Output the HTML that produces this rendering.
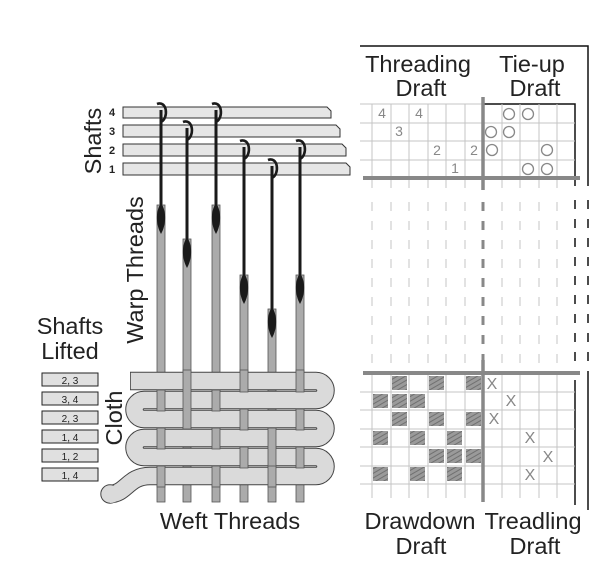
<!DOCTYPE html>
<html><head><meta charset="utf-8"><style>
html,body{margin:0;padding:0;background:#fff;}
svg{display:block;}
text{font-family:"Liberation Sans",sans-serif;}
</style></head><body>
<svg width="607" height="577" viewBox="0 0 607 577" xmlns="http://www.w3.org/2000/svg">
<defs>
<pattern id="hatch" width="4" height="4" patternUnits="userSpaceOnUse" patternTransform="rotate(-30)">
<rect width="4" height="4" fill="#9a9a9a"/><line x1="0" y1="0" x2="4" y2="0" stroke="#707070" stroke-width="2"/>
</pattern>
</defs>

<!-- Frame -->
<path d="M360 46 H588 V186" fill="none" stroke="#111" stroke-width="1.5"/>
<path d="M588 200 V372" stroke="#111" stroke-width="1.5" stroke-dasharray="9 10"/>
<path d="M588 372 V510" stroke="#111" stroke-width="1.5"/>
<path d="M483 104 H575 V186" fill="none" stroke="#111" stroke-width="1.5"/>
<path d="M575 200 V372" stroke="#111" stroke-width="1.5" stroke-dasharray="9 10"/>
<path d="M575 380 V505" stroke="#111" stroke-width="1.5"/>

<!-- Titles -->
<g font-size="23.5" text-anchor="middle" fill="#222">
<text x="418" y="72">Threading</text><text x="421" y="96">Draft</text>
<text x="532" y="72">Tie-up</text><text x="535" y="96">Draft</text>
<text x="420" y="529">Drawdown</text><text x="421" y="554">Draft</text>
<text x="533" y="529">Treadling</text><text x="535" y="554">Draft</text>
<text x="230" y="529">Weft Threads</text>
<text x="70" y="334">Shafts</text><text x="70" y="359">Lifted</text>
<text transform="translate(101,141) rotate(-90)">Shafts</text>
<text transform="translate(143,270) rotate(-90)">Warp Threads</text>
<text transform="translate(122,418) rotate(-90)">Cloth</text>
</g>

<!-- Top grid -->
<g stroke="#c4c4c4" stroke-width="1">
<path d="M360 104 H483 M360 123 H575 M360 141 H575 M360 160 H575"/>
<path d="M372 104 V188 M391 104 V188 M409 104 V188 M428 104 V188 M446 104 V188 M465 104 V188 M502 104 V188 M520 104 V188 M539 104 V188 M557 104 V188"/>
</g>
<path d="M483 97 V190" stroke="#888" stroke-width="3.5"/>
<path d="M363 178 H580" stroke="#888" stroke-width="4"/>
<g font-size="14" fill="#888" text-anchor="middle">
<text x="382" y="118">4</text><text x="419" y="118">4</text>
<text x="399" y="136">3</text>
<text x="437" y="155">2</text><text x="474" y="155">2</text>
<text x="455" y="173">1</text>
</g>
<g fill="none" stroke="#888" stroke-width="1.3">
<circle cx="509" cy="114" r="5.5"/><circle cx="528" cy="114" r="5.5"/>
<circle cx="491" cy="132" r="5.5"/><circle cx="509" cy="132" r="5.5"/>
<circle cx="492" cy="150" r="5.5"/><circle cx="547" cy="150" r="5.5"/>
<circle cx="528" cy="169" r="5.5"/><circle cx="547" cy="169" r="5.5"/>
</g>

<!-- Middle dashed -->
<g stroke="#c4c4c4" stroke-width="1" stroke-dasharray="9 10">
<path d="M372 202 V368 M391 202 V368 M409 202 V368 M428 202 V368 M446 202 V368 M465 202 V368 M502 202 V368 M520 202 V368 M539 202 V368 M557 202 V368"/>
</g>
<path d="M483 202 V368" stroke="#888" stroke-width="3" stroke-dasharray="9 10"/>

<!-- Bottom grid -->
<g stroke="#c4c4c4" stroke-width="1">
<path d="M360 392 H575 M360 410 H575 M360 429 H575 M360 447 H575 M360 466 H575 M360 484 H575"/>
<path d="M372 373 V498 M391 373 V498 M409 373 V498 M428 373 V498 M446 373 V498 M465 373 V498 M502 373 V498 M520 373 V498 M539 373 V498 M557 373 V498"/>
</g>
<g fill="url(#hatch)">
<rect x="392" y="376" width="15" height="14"/><rect x="429" y="376" width="15" height="14"/><rect x="466" y="376" width="15" height="14"/>
<rect x="373" y="394" width="15" height="14"/><rect x="392" y="394" width="15" height="14"/><rect x="410" y="394" width="15" height="14"/>
<rect x="392" y="412" width="15" height="14"/><rect x="429" y="412" width="15" height="14"/><rect x="466" y="412" width="15" height="14"/>
<rect x="373" y="431" width="15" height="14"/><rect x="410" y="431" width="15" height="14"/><rect x="447" y="431" width="15" height="14"/>
<rect x="429" y="449" width="15" height="14"/><rect x="447" y="449" width="15" height="14"/><rect x="466" y="449" width="15" height="14"/>
<rect x="373" y="467" width="15" height="14"/><rect x="410" y="467" width="15" height="14"/><rect x="447" y="467" width="15" height="14"/>
</g>
<path d="M483 360 V502" stroke="#888" stroke-width="3.5"/>
<path d="M363 373 H580" stroke="#888" stroke-width="4"/>
<g font-size="16" text-anchor="middle" fill="#888">
<text x="492" y="389">X</text><text x="511" y="406">X</text>
<text x="494" y="424">X</text><text x="530" y="443">X</text>
<text x="548" y="462">X</text><text x="530" y="480">X</text>
</g>

<!-- Shafts -->
<g fill="#e6e6e6" stroke="#333" stroke-width="1">
<path d="M123 107 H327 L331 111 V118 H123 Z"/>
<path d="M123 125 H336 L340 129 V137 H123 Z"/>
<path d="M123 144 H342 L346 148 V156 H123 Z"/>
<path d="M123 163 H346 L350 167 V175 H123 Z"/>
</g>
<g font-size="11" font-weight="bold" text-anchor="middle" fill="#222">
<text x="112" y="116">4</text><text x="112" y="135">3</text><text x="112" y="154">2</text><text x="112" y="173">1</text>
</g>

<!-- Shafts lifted boxes -->
<g fill="#e0e0e0" stroke="#222" stroke-width="1">
<rect x="42" y="373" width="56" height="13"/><rect x="42" y="392" width="56" height="13"/>
<rect x="42" y="411" width="56" height="13"/><rect x="42" y="430" width="56" height="13"/>
<rect x="42" y="449" width="56" height="13"/><rect x="42" y="468" width="56" height="13"/>
</g>
<g font-size="10" text-anchor="middle" fill="#222">
<text x="70" y="384">2, 3</text><text x="70" y="403">3, 4</text><text x="70" y="422">2, 3</text>
<text x="70" y="441">1, 4</text><text x="70" y="460">1, 2</text><text x="70" y="479">1, 4</text>
</g>

<!-- Heddles -->
<g stroke="#1a1a1a" stroke-width="3" fill="none">
<path d="M161 110 V205"/><path d="M187 128 V239"/><path d="M216 110 V205"/>
<path d="M244 147 V275"/><path d="M272 166 V309"/><path d="M300 147 V275"/>
</g>
<g stroke="#1a1a1a" stroke-width="2.6" fill="none">
<path d="M157 104 C167 100 169 118 161 122"/><path d="M212 104 C222 100 224 118 216 122"/>
<path d="M183 122 C193 118 195 136 187 140"/>
<path d="M240 141 C250 137 252 155 244 159"/><path d="M296 141 C306 137 308 155 300 159"/>
<path d="M268 160 C278 156 280 174 272 178"/>
</g>

<!-- Warp gray threads -->
<g fill="#ababab" stroke="#555" stroke-width="0.8">
<rect x="157" y="205" width="8" height="297"/><rect x="183" y="239" width="8" height="263"/>
<rect x="212" y="205" width="8" height="297"/><rect x="240" y="275" width="8" height="227"/>
<rect x="268" y="309" width="8" height="193"/><rect x="296" y="275" width="8" height="227"/>
</g>
<g fill="#1a1a1a">
<path d="M161 203 C167 212 166 225 161 234 C156 225 155 212 161 203Z"/>
<path d="M187 237 C193 246 192 259 187 268 C182 259 181 246 187 237Z"/>
<path d="M216 203 C222 212 221 225 216 234 C211 225 210 212 216 203Z"/>
<path d="M244 273 C250 282 249 295 244 304 C239 295 238 282 244 273Z"/>
<path d="M272 307 C278 316 277 329 272 338 C267 329 266 316 272 307Z"/>
<path d="M300 273 C306 282 305 295 300 304 C295 295 294 282 300 273Z"/>
</g>

<!-- Weft serpentine -->
<path d="M130 381 H316 A9.5 9.5 0 0 1 316 400 H144 A9.5 9.5 0 0 0 144 419 H316 A9.5 9.5 0 0 1 316 438 H144 A9.5 9.5 0 0 0 144 457 H316 A9.5 9.5 0 0 1 316 476 H150 C128 476 126 494 110 494" fill="none" stroke="#444" stroke-width="18.5" stroke-linejoin="round"/>
<path d="M130.8 381 H316 A9.5 9.5 0 0 1 316 400 H144 A9.5 9.5 0 0 0 144 419 H316 A9.5 9.5 0 0 1 316 438 H144 A9.5 9.5 0 0 0 144 457 H316 A9.5 9.5 0 0 1 316 476 H150 C128 476 126 494 110 494" fill="none" stroke="#dadada" stroke-width="16.5" stroke-linejoin="round"/>
<circle cx="110" cy="494" r="9.2" fill="#dadada" stroke="#444" stroke-width="1"/>
<path d="M110 486 C120 486 126 478 140 477 L140 486 C128 487 122 503 110 503Z" fill="#dadada"/>

<!-- Warp over segments -->
<g fill="#ababab" stroke="#555" stroke-width="0.8">
<rect x="183" y="370" width="8" height="59"/>
<rect x="240" y="370" width="8" height="22"/><rect x="296" y="370" width="8" height="22"/>
<rect x="157" y="390" width="8" height="21"/><rect x="212" y="390" width="8" height="21"/>
<rect x="240" y="409" width="8" height="21"/><rect x="296" y="409" width="8" height="21"/>
<rect x="157" y="428" width="8" height="21"/><rect x="212" y="428" width="8" height="21"/><rect x="268" y="428" width="8" height="40"/>
<rect x="240" y="447" width="8" height="21"/><rect x="296" y="447" width="8" height="21"/>
<rect x="157" y="466" width="8" height="21"/><rect x="212" y="466" width="8" height="21"/><rect x="268" y="466" width="8" height="21"/>
</g>
</svg>
</body></html>
